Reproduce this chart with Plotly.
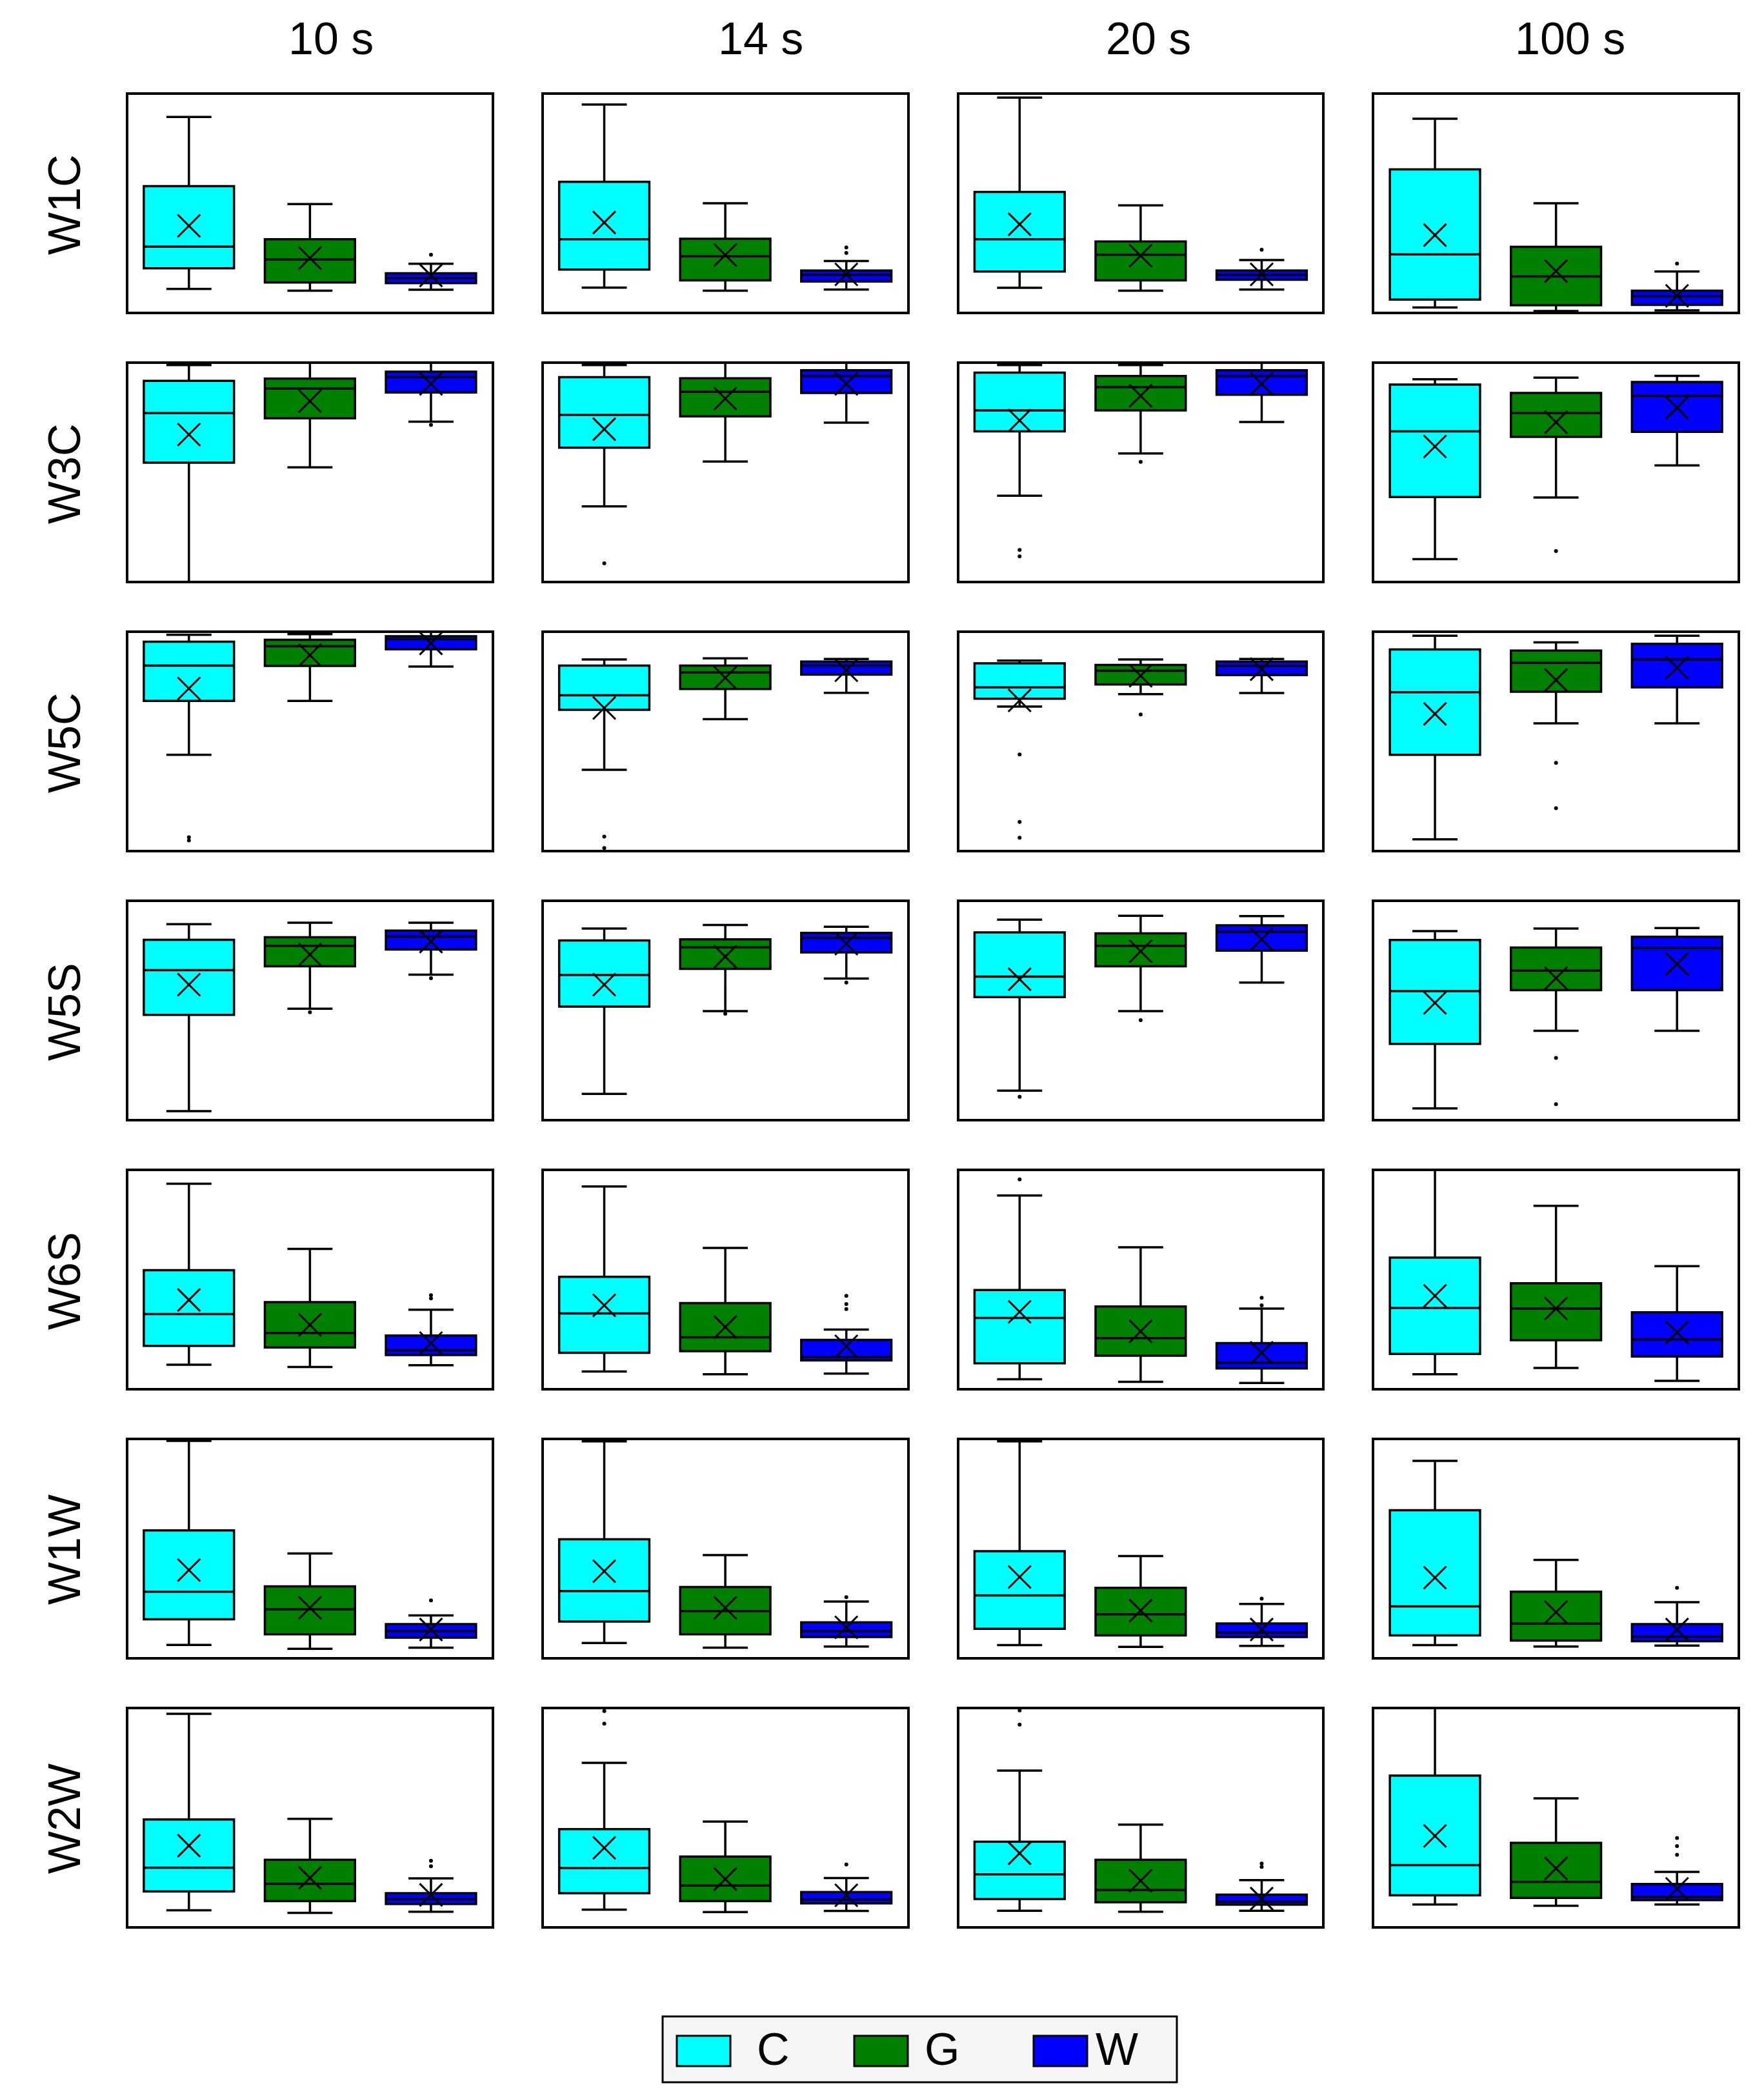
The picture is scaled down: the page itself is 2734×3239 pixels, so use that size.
import plotly.graph_objects as go
from plotly.subplots import make_subplots

# panel labels
rows = ["W1C", "W3C", "W5C", "W5S", "W6S", "W1W", "W2W"]
cols = ["10 s", "14 s", "20 s", "100 s"]
groups = ["C", "G", "W"]
colors = {"C": "#00FFFF", "G": "#008000", "W": "#0000FF"}

# values are read as % of each panel's height (no axis scale shown)
# each row: 4 panels, each panel: [C, G, W]
lower = [
    [[10.5, 9.7, 10.1], [11.1, 9.7, 10.2], [11.0, 9.7, 10.2], [1.9, 0.3, 0.6]],
    [[-5, 52.3, 73.4], [34.3, 55.0, 72.9], [39.2, 58.7, 73.2], [10.0, 38.4, 53.2]],
    [[43.8, 68.7, 84.5], [36.9, 60.3, 72.4], [66.1, 71.8, 72.3], [4.8, 58.3, 58.3]],
    [[3.6, 50.8, 66.5], [11.5, 49.7, 64.7], [13.0, 49.7, 62.9], [4.8, 40.6, 40.6]],
    [[10.7, 9.7, 10.5], [7.6, 6.3, 6.6], [4.0, 2.8, 2.3], [6.3, 9.2, 3.3]],
    [[5.6, 3.8, 4.3], [6.5, 4.3, 4.8], [5.5, 4.7, 5.1], [5.5, 4.8, 5.3]],
    [[7.3, 6.1, 6.6], [7.6, 6.5, 7.0], [7.1, 6.6, 7.1], [10.0, 9.4, 10.0]],
]
q1 = [
    [[20.0, 13.5, 13.2], [19.4, 14.4, 13.9], [18.5, 14.4, 14.7], [5.6, 3.0, 3.1]],
    [[54.5, 74.9, 86.8], [61.4, 75.8, 86.6], [68.9, 78.6, 85.8], [38.6, 66.4, 68.7]],
    [[68.7, 84.8, 92.5], [64.6, 74.2, 80.8], [69.7, 76.3, 80.6], [43.8, 72.9, 74.9]],
    [[48.0, 70.4, 78.1], [51.8, 69.2, 76.8], [56.2, 70.4, 77.6], [34.6, 59.4, 59.4]],
    [[19.4, 18.7, 15.2], [16.2, 17.0, 12.7], [11.4, 14.9, 9.0], [15.7, 22.0, 14.5]],
    [[17.4, 10.5, 8.9], [16.4, 10.5, 9.2], [13.0, 10.0, 9.2], [10.0, 7.6, 7.3]],
    [[16.0, 11.5, 10.2], [15.2, 11.5, 10.5], [12.5, 11.0, 9.9], [14.2, 13.0, 12.0]],
]
median = [
    [[30.0, 24.0, 15.5], [33.4, 25.5, 17.0], [33.4, 26.3, 17.0], [26.4, 16.2, 7.1]],
    [[77.3, 88.6, 93.9], [76.5, 87.1, 94.4], [78.6, 89.3, 94.4], [68.9, 77.3, 85.3]],
    [[85.0, 93.9, 97.2], [71.3, 81.8, 85.0], [74.9, 82.6, 84.8], [72.7, 86.2, 87.8]],
    [[68.6, 79.8, 84.1], [66.4, 79.1, 83.5], [65.6, 79.8, 86.3], [58.9, 68.4, 78.8]],
    [[34.1, 25.4, 17.4], [34.4, 23.4, 14.2], [32.3, 23.0, 11.7], [36.9, 36.6, 22.4]],
    [[30.1, 22.0, 12.0], [30.4, 21.2, 12.0], [28.4, 19.7, 11.2], [23.4, 15.4, 9.4]],
    [[26.9, 19.5, 12.4], [26.8, 18.7, 12.2], [23.9, 16.7, 11.2], [28.1, 20.4, 13.5]],
]
q3 = [
    [[57.9, 33.4, 17.7], [59.9, 33.6, 19.0], [55.2, 32.4, 19.0], [65.6, 29.9, 9.7]],
    [[92.2, 93.2, 96.4], [93.9, 93.4, 97.1], [96.0, 94.4, 97.1], [90.5, 86.6, 91.7]],
    [[96.0, 96.9, 98.5], [85.0, 85.0, 86.8], [86.0, 85.3, 86.8], [92.4, 91.9, 95.0]],
    [[82.6, 83.8, 86.8], [82.3, 82.8, 85.8], [86.0, 85.6, 89.3], [82.5, 79.0, 84.0]],
    [[54.3, 39.6, 24.2], [51.3, 39.1, 22.2], [45.2, 37.6, 20.7], [60.1, 48.3, 34.9]],
    [[58.4, 32.6, 15.2], [54.3, 32.3, 16.0], [48.8, 31.9, 15.5], [67.7, 30.1, 15.2]],
    [[49.2, 30.6, 15.2], [44.7, 32.1, 15.7], [38.9, 30.6, 14.5], [69.4, 38.4, 19.4]],
]
upper = [
    [[89.8, 49.6, 22.1], [95.5, 50.0, 23.4], [98.7, 49.0, 23.8], [89.0, 50.0, 18.5]],
    [[99.5, 103, 103], [99.5, 103, 103], [99.5, 99.5, 103], [92.9, 93.7, 94.5]],
    [[99.2, 99.5, 103], [87.8, 88.3, 88.0], [87.3, 87.8, 88.0], [98.7, 95.7, 98.7]],
    [[89.8, 90.5, 90.5], [87.8, 89.4, 88.6], [91.9, 93.7, 93.5], [86.6, 87.8, 88.0]],
    [[94.2, 64.1, 36.1], [92.9, 64.6, 26.9], [88.8, 64.9, 36.6], [103, 84.0, 56.2]],
    [[99.7, 47.8, 19.2], [99.5, 47.0, 25.6], [99.5, 46.6, 24.5], [90.5, 44.8, 25.3]],
    [[97.9, 49.5, 22.0], [75.3, 48.2, 22.2], [71.7, 46.8, 21.2], [103, 58.9, 25.0]],
]
mean = [
    [[39.6, 24.7, 16.7], [41.1, 26.1, 17.2], [40.3, 25.8, 17.2], [35.3, 18.7, 7.3]],
    [[67.4, 82.8, 90.8], [69.9, 84.0, 90.8], [73.9, 85.3, 90.8], [61.9, 73.1, 79.8]],
    [[74.4, 89.8, 95.2], [65.4, 79.3, 82.8], [68.9, 80.3, 83.3], [62.7, 78.3, 84.0]],
    [[61.9, 75.8, 81.8], [61.9, 74.8, 80.8], [64.4, 77.3, 82.8], [53.5, 64.9, 71.4]],
    [[40.6, 29.1, 20.7], [38.1, 28.1, 19.2], [35.1, 26.1, 16.2], [42.5, 36.6, 25.6]],
    [[40.1, 22.7, 12.7], [39.6, 22.7, 13.7], [36.9, 21.4, 12.7], [36.6, 20.7, 12.7]],
    [[37.1, 22.2, 14.4], [36.1, 21.7, 14.2], [33.6, 20.9, 12.7], [41.6, 26.6, 17.2]],
]
outliers = [
    [[[], [], [26.3]], [[], [], [27.1, 29.6]], [[], [], [28.6]], [[], [], [22.2]]],
    [[[], [], [71.9]], [[8.0], [], []], [[14.2, 11.2], [54.8], []], [[], [13.7], []]],
    [[[5.8, 4.3], [], []], [[6.1, 0.8], [], []], [[44.0, 12.9, 5.6], [62.4], []], [[], [40.1, 19.2], []]],
    [[[], [49.2], [64.9]], [[], [48.5], [62.9]], [[10.2], [45.5], []], [[], [28.1, 6.8], []]],
    [[[], [], [42.8, 41.3]], [[], [], [42.5, 38.7, 36.4]], [[96.2], [], [41.6, 38.1]], [[], [], []]],
    [[[], [], [26.1]], [[], [], [27.6]], [[], [], [26.9]], [[], [], [31.9]]],
    [[[], [], [30.1, 27.6]], [[99.2, 93.4], [], [28.4]], [[99.5, 92.9], [], [28.9, 27.3]], [[], [], [40.6, 36.9, 32.9]]],
]

W, H = 2734, 3239
OFF = 8  # page body margin shifts the figure by this much
ML, MR, MT, MB = 199 - OFF, 41 + OFF, 147 - OFF, 254 + OFF
PW, PH = W - ML - MR, H - MT - MB
FONT = "Liberation Sans, Arial, sans-serif"


def px(x):
    return (x - OFF - ML) / PW


def py(y):
    return (H - MB - (y - OFF)) / PH


fig = make_subplots(rows=7, cols=4, horizontal_spacing=81 / PW, vertical_spacing=81 / PH)

for r in range(len(rows)):
    for c in range(len(cols)):
        for g, name in enumerate(groups):
            fig.add_trace(go.Box(
                x=[name], q1=[q1[r][c][g]], median=[median[r][c][g]], q3=[q3[r][c][g]],
                lowerfence=[lower[r][c][g]], upperfence=[upper[r][c][g]],
                boxpoints=False, width=0.745, whiskerwidth=0.5,
                fillcolor=colors[name], line=dict(color="black", width=3.5),
                name=name, showlegend=False, hoverinfo="skip",
            ), row=r + 1, col=c + 1)
        # mean markers
        fig.add_trace(go.Scatter(
            x=groups, y=mean[r][c], mode="markers", showlegend=False, hoverinfo="skip",
            marker=dict(symbol="x-thin", size=35, color="black", line=dict(color="black", width=3)),
        ), row=r + 1, col=c + 1)
        # outliers
        ox, oy = [], []
        for g, name in enumerate(groups):
            for v in outliers[r][c][g]:
                ox.append(name)
                oy.append(v)
        if ox:
            fig.add_trace(go.Scatter(
                x=ox, y=oy, mode="markers", showlegend=False, hoverinfo="skip",
                marker=dict(symbol="circle", size=6, color="black"),
            ), row=r + 1, col=c + 1)

fig.update_xaxes(type="category", categoryorder="array", categoryarray=groups,
                 range=[-0.5, 2.5], showticklabels=False, ticks="", showgrid=False,
                 zeroline=False, showline=True, mirror=True, linecolor="black", linewidth=4)
fig.update_yaxes(range=[0, 100], showticklabels=False, ticks="", showgrid=False,
                 zeroline=False, showline=True, mirror=True, linecolor="black", linewidth=4)

annotations = []
title_x = [513, 1179, 1780, 2433]
for c, t in enumerate(cols):
    annotations.append(dict(text=t, x=px(title_x[c]), y=py(60), xref="paper", yref="paper",
                            showarrow=False, xanchor="center", yanchor="middle",
                            font=dict(family=FONT, size=70, color="black")))
for r, t in enumerate(rows):
    top = 147 + r * (336 + 81)
    annotations.append(dict(text=t, x=px(100), y=py(top + 170), xref="paper", yref="paper",
                            showarrow=False, xanchor="center", yanchor="middle", textangle=-90,
                            font=dict(family=FONT, size=70, color="black")))

# legend drawn by hand (large swatches)
shapes = [dict(type="rect", xref="paper", yref="paper", x0=px(1027), x1=px(1824),
               y0=py(3227), y1=py(3125), fillcolor="#f5f5f5", line=dict(color="black", width=3),
               layer="below")]
leg_sw = [1049, 1324, 1602]
leg_tx = [1198, 1460, 1731]
for g, name in enumerate(groups):
    shapes.append(dict(type="rect", xref="paper", yref="paper", x0=px(leg_sw[g]), x1=px(leg_sw[g] + 83),
                       y0=py(3202), y1=py(3155), fillcolor=colors[name],
                       line=dict(color="black", width=3)))
    annotations.append(dict(text=name, x=px(leg_tx[g]), y=py(3176), xref="paper", yref="paper",
                            showarrow=False, xanchor="center", yanchor="middle",
                            font=dict(family=FONT, size=70, color="black")))

fig.update_layout(
    width=W, height=H,
    margin=dict(l=ML, r=MR, t=MT, b=MB),
    paper_bgcolor="white", plot_bgcolor="white",
    annotations=annotations, shapes=shapes,
    showlegend=False,
)

fig.write_html("out.html")
